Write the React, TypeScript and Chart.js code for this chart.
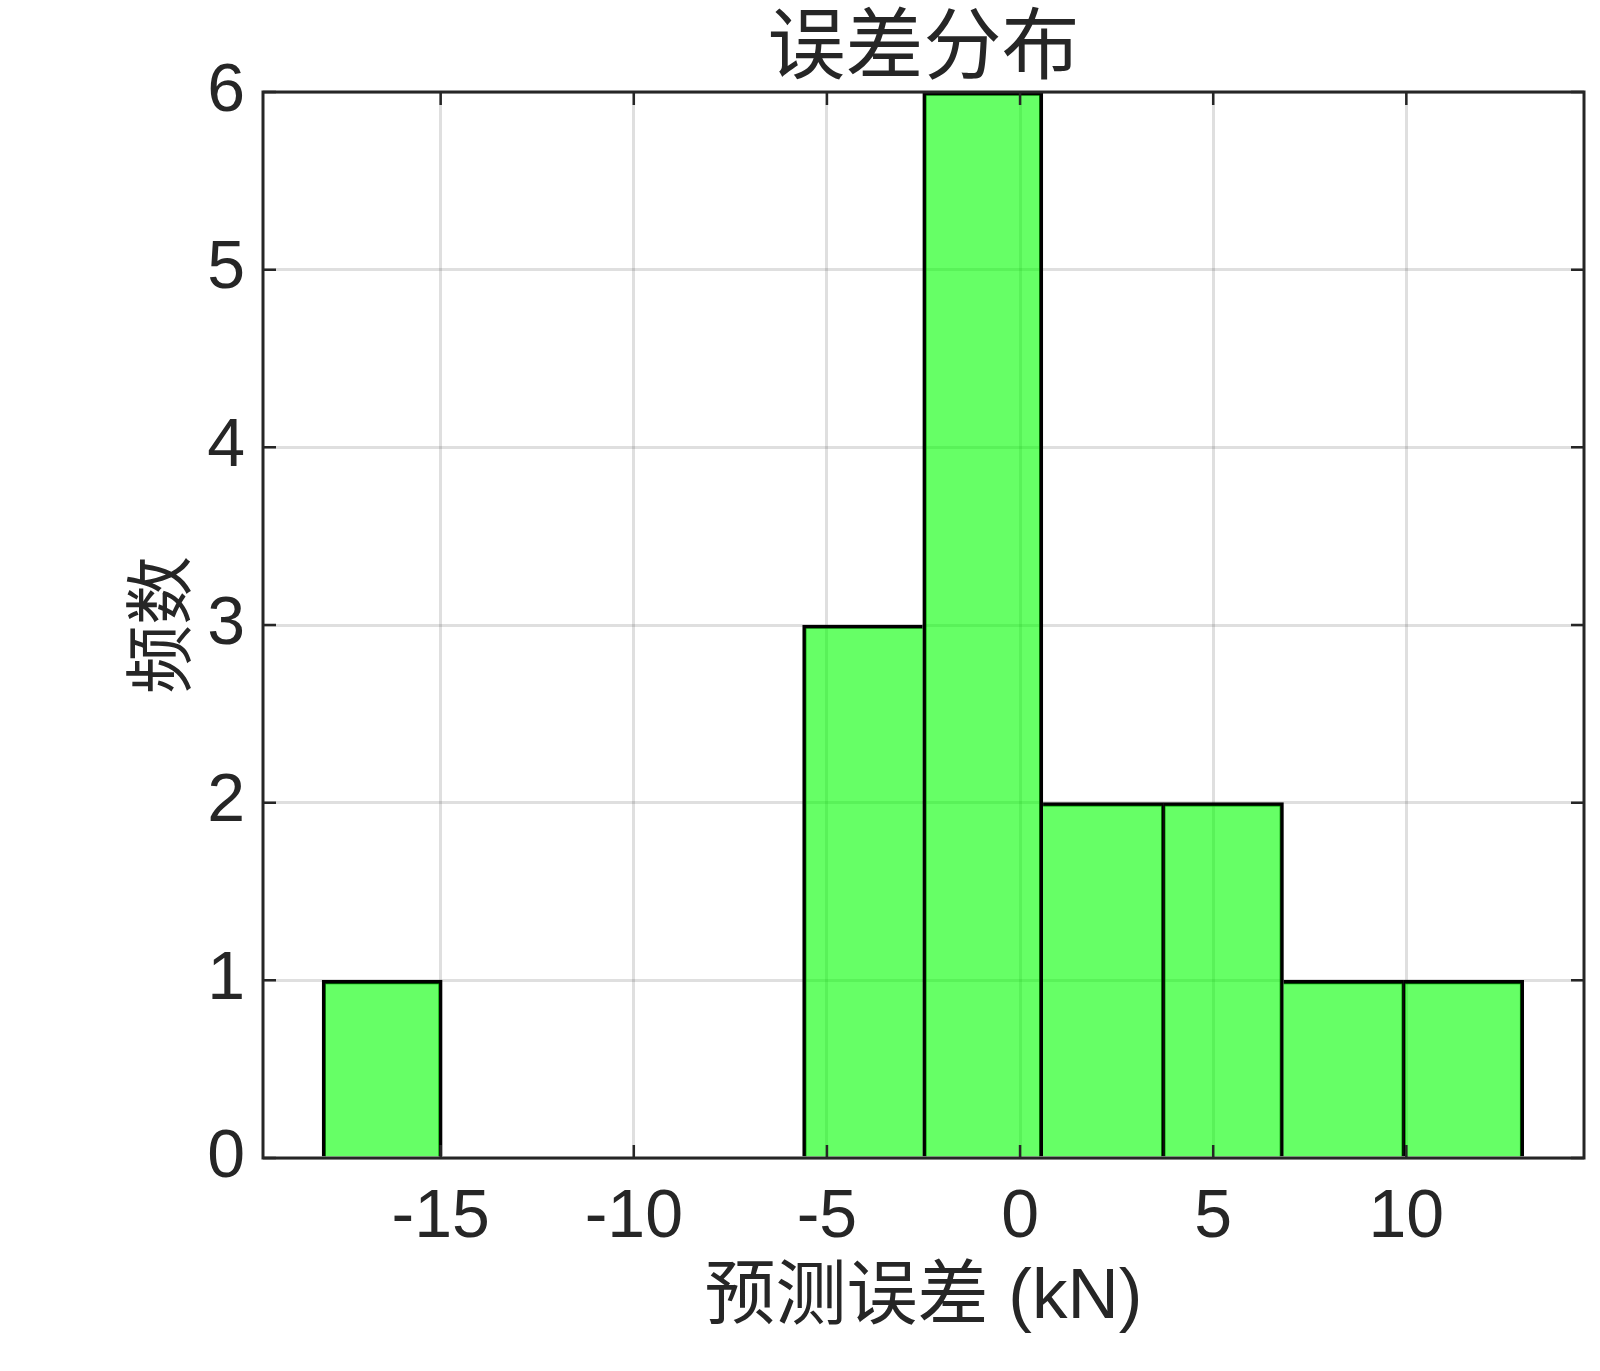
import React, { useEffect, useRef } from "react";
import { Chart, registerables } from "chart.js";

Chart.register(...registerables);

// ---- data ----
const BIN_EDGES = [-18.07, -14.96, -11.85, -8.74, -5.63, -2.52, 0.59, 3.71, 6.82, 9.93, 13.04];
const COUNTS = [1, 0, 0, 0, 3, 6, 2, 2, 1, 1];
const X_TICKS = [-15, -10, -5, 0, 5, 10];
const Y_TICKS = [0, 1, 2, 3, 4, 5, 6];
const X_MIN = -19.6;
const X_MAX = 14.6;
const Y_MIN = 0;
const Y_MAX = 6;
const TITLE = "误差分布";
const X_LABEL = "预测误差 (kN)";
const Y_LABEL = "频数";

// ---- styles ----
const TXT = "#262626";
const GRID = "rgba(38,38,38,0.15)";
const BAR_FILL = "rgba(0,255,0,0.6)";
const BAR_EDGE = "#000000";
const FONT = "'Liberation Sans', 'Noto Sans CJK SC', Arial, sans-serif";
const CJK = "'Liberation Sans', 'Noto Sans CJK SC', sans-serif";
const TICK_LEN = 13;

const framePlugin = {
  id: "frame",
  afterDatasetsDraw(chart: any) {
    const { ctx, chartArea, scales } = chart;
    const { left, right, top, bottom } = chartArea;
    const x = scales.x;
    const y = scales.y;
    ctx.save();
    ctx.strokeStyle = TXT;
    ctx.lineWidth = 2.5;
    ctx.beginPath();
    X_TICKS.forEach((v) => {
      const px = x.getPixelForValue(v);
      ctx.moveTo(px, bottom);
      ctx.lineTo(px, bottom - TICK_LEN);
      ctx.moveTo(px, top);
      ctx.lineTo(px, top + TICK_LEN);
    });
    Y_TICKS.forEach((v) => {
      const py = y.getPixelForValue(v);
      ctx.moveTo(left, py);
      ctx.lineTo(left + TICK_LEN, py);
      ctx.moveTo(right, py);
      ctx.lineTo(right - TICK_LEN, py);
    });
    ctx.stroke();
    ctx.lineWidth = 3;
    ctx.strokeRect(left, top, right - left, bottom - top);
    ctx.restore();
  },
};

export default function App() {
  const ref = useRef<HTMLCanvasElement | null>(null);

  useEffect(() => {
    if (!ref.current) return;
    const centers = COUNTS.map((_, i) => (BIN_EDGES[i] + BIN_EDGES[i + 1]) / 2);
    const data = COUNTS.map((c, i) => ({ x: centers[i], y: c }));

    const side = (n: number | undefined, v: number) => {
      if (n === undefined || n === 0 || n < v) return 3.5;
      if (n === v) return 1.75;
      return 0;
    };

    const chart = new Chart(ref.current, {
      type: "bar",
      data: {
        datasets: [
          {
            data: data as any,
            backgroundColor: BAR_FILL,
            borderColor: BAR_EDGE,
            borderSkipped: false,
            borderWidth: ((c: any) => {
              const i = c.dataIndex;
              const v = COUNTS[i];
              if (!v) return 0;
              return {
                top: 3.5,
                bottom: 0,
                left: side(COUNTS[i - 1], v),
                right: side(COUNTS[i + 1], v),
              };
            }) as any,
            barPercentage: 1,
            categoryPercentage: 1,
          },
        ],
      },
      options: {
        animation: false,
        responsive: false,
        devicePixelRatio: 1,
        layout: { padding: { left: 0, right: 16, top: 0, bottom: 0 } },
        plugins: {
          legend: { display: false },
          tooltip: { enabled: false },
          title: {
            display: true,
            text: TITLE,
            fullSize: false,
            color: TXT,
            font: { family: CJK, size: 78, weight: "normal", lineHeight: 1 },
            padding: { top: 12, bottom: 2 },
          },
        },
        scales: {
          x: {
            type: "linear",
            min: X_MIN,
            max: X_MAX,
            offset: false,
            afterBuildTicks: (s: any) => {
              s.ticks = X_TICKS.map((v) => ({ value: v }));
            },
            afterFit: (s: any) => {
              s.height = 213;
            },
            grid: { color: GRID, lineWidth: 3, drawTicks: false, offset: false },
            border: { display: false },
            ticks: {
              color: TXT,
              font: { family: FONT, size: 68, lineHeight: 1 },
              padding: 26,
              maxRotation: 0,
              autoSkip: false,
              callback: (v: any) => String(v),
            },
            title: {
              display: true,
              text: X_LABEL,
              color: TXT,
              font: { family: CJK, size: 71, lineHeight: 1 },
              padding: { top: 0, bottom: 37 },
            },
          },
          y: {
            type: "linear",
            min: Y_MIN,
            max: Y_MAX,
            afterBuildTicks: (s: any) => {
              s.ticks = Y_TICKS.map((v) => ({ value: v }));
            },
            afterFit: (s: any) => {
              s.width = 263;
            },
            grid: { color: GRID, lineWidth: 3, drawTicks: false },
            border: { display: false },
            ticks: {
              color: TXT,
              font: { family: FONT, size: 68, lineHeight: 1 },
              padding: 18,
              autoSkip: false,
              callback: (v: any) => String(v),
            },
            title: {
              display: true,
              text: Y_LABEL,
              color: TXT,
              font: { family: CJK, size: 69, lineHeight: 1 },
              padding: { top: 131, bottom: 0 },
            },
          },
        },
      } as any,
      plugins: [framePlugin],
    });
    return () => chart.destroy();
  }, []);

  return (
    <div style={{ position: "absolute", left: 0, top: 0, width: 1600, height: 1371, background: "#fff" }}>
      <canvas ref={ref} width={1600} height={1371} style={{ display: "block" }} />
    </div>
  );
}
